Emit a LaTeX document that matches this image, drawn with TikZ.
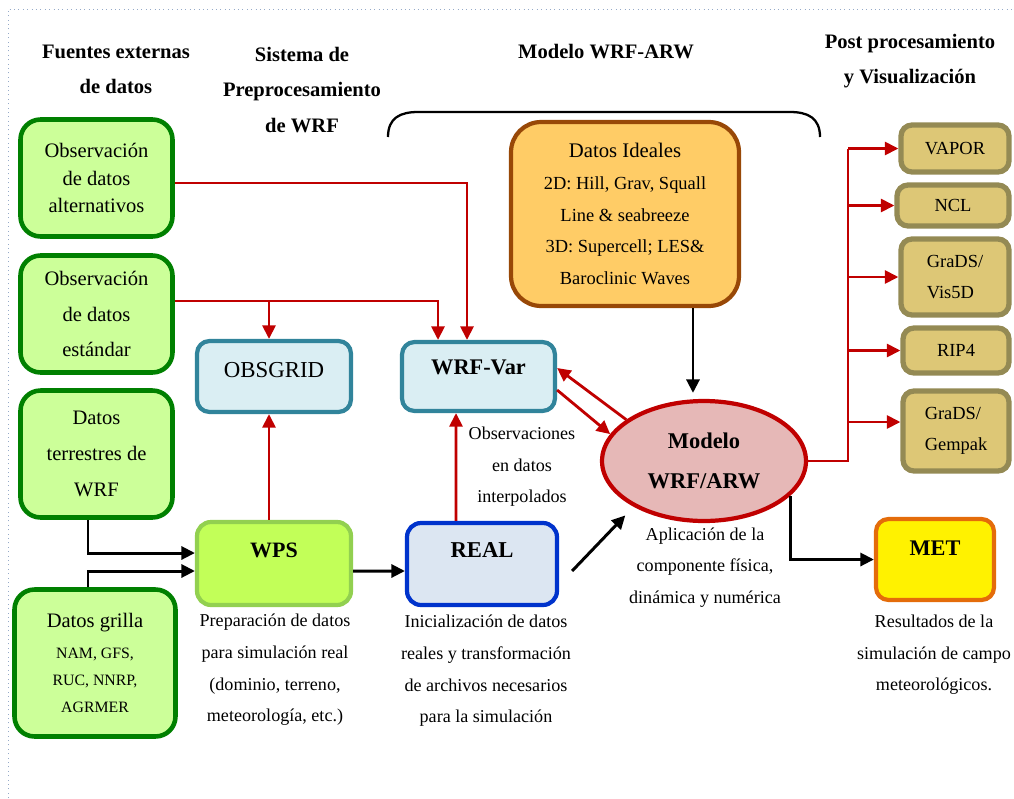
\documentclass[tikz,border=0pt]{standalone}
\usepackage{fontspec}
\setmainfont{Liberation Serif}
\usepackage{xcolor}
\usetikzlibrary{shapes.geometric,arrows.meta}
\definecolor{srcGreen}{RGB}{0,128,0}
\definecolor{srcFill}{RGB}{204,255,153}
\definecolor{preTeal}{RGB}{49,132,155}
\definecolor{preFill}{RGB}{218,238,243}
\definecolor{wpsGreen}{RGB}{146,208,80}
\definecolor{wpsFill}{RGB}{194,255,88}
\definecolor{realBlue}{RGB}{0,51,204}
\definecolor{realFill}{RGB}{220,230,242}
\definecolor{idealBrown}{RGB}{152,72,7}
\definecolor{idealFill}{RGB}{255,204,102}
\definecolor{wrfRed}{RGB}{192,0,0}
\definecolor{wrfFill}{RGB}{230,184,183}
\definecolor{metOrange}{RGB}{228,108,10}
\definecolor{postOlive}{RGB}{148,138,84}
\definecolor{postFill}{RGB}{221,199,118}
\definecolor{frameBlue}{RGB}{150,170,200}

\begin{document}
\begin{tikzpicture}[x=0.02cm, y=-0.02cm,
    >={Triangle[length=0.27cm,width=0.26cm]},
    txt/.style={font=\fontsize{10.3}{18}\selectfont, align=center, inner sep=0pt},
    head/.style={font=\fontsize{11.7}{20}\selectfont\bfseries, align=center, inner sep=0pt},
    srcbox/.style={draw=srcGreen, fill=srcFill, line width=2.6pt, rounded corners=0.4cm, align=center, minimum width=3.04cm},
    prebox/.style={draw=preTeal, fill=preFill, line width=2.4pt, rounded corners=0.25cm},
    postbox/.style={draw=postOlive, fill=postFill, line width=3pt, rounded corners=0.22cm, font=\fontsize{10.5}{18}\selectfont},
    redline/.style={draw=wrfRed, line width=1.6pt},
    blackline/.style={draw=black, line width=1.7pt}]
            \useasboundingbox (0,0) rectangle (1014,798);
            \draw[frameBlue, dotted, line width=0.5pt] (8,798) -- (8,9) -- (1014,9);

            % Titles
            \node[head] (hsrc) at (116,69.5) {Fuentes externas\\de datos};
            \node[head] (hpre) at (302,90) {Sistema de\\Preprocesamiento\\de WRF};
            \node[head] (hwrf) at (606,52) {Modelo WRF-ARW};
            \node[head] (hpost) at (910,61.5) {Post procesamiento\\y Visualización};
            \draw[line width=1.3pt] (388,137) .. controls (388,118) and (400,112) .. (418,112) -- (790,112) .. controls (808,112) and (820,118) .. (820,137);

            % Fuentes externas
            \node[srcbox, minimum height=2.34cm, font=\fontsize{11.7}{15.6}\selectfont] (obsalt) at (96.5,178) {Observación\\de datos\\alternativos};
            \node[srcbox, minimum height=2.34cm, font=\fontsize{11.7}{20}\selectfont] (obsstd) at (96.5,314) {Observación\\de datos\\estándar};
            \node[srcbox, minimum height=2.54cm, font=\fontsize{11.7}{20.5}\selectfont] (terr) at (96.5,454) {Datos\\terrestres de\\WRF};
            \node[srcbox, minimum width=3.22cm, minimum height=2.94cm, font=\fontsize{9}{15.4}\selectfont] (grid) at (95,663) {{\fontsize{11.7}{15}\selectfont Datos grilla}\\[2pt]NAM, GFS,\\RUC, NNRP,\\AGRMER};

            % Preprocesamiento
            \node[prebox, minimum width=3.08cm, minimum height=1.42cm, font=\fontsize{13}{15}\selectfont, text depth=0.28cm] (obsgrid) at (274,376.5) {OBSGRID};
            \node[prebox, minimum width=3.06cm, minimum height=1.38cm, font=\fontsize{12.7}{15}\selectfont\bfseries, text depth=0.38cm] (wrfvar) at (478.5,376.5) {WRF-Var};
            \node[draw=wpsGreen, fill=wpsFill, line width=2.4pt, rounded corners=0.28cm, minimum width=3.08cm, minimum height=1.66cm, font=\fontsize{12.5}{15}\selectfont\bfseries, text depth=0.54cm] (wps) at (274,563.5) {WPS};
            \node[draw=realBlue, fill=realFill, line width=2.4pt, rounded corners=0.28cm, minimum width=3.0cm, minimum height=1.64cm, font=\fontsize{12.9}{15}\selectfont\bfseries, text depth=0.56cm] (real) at (482,564) {REAL};
            \node[txt] (wpstxt) at (275,670) {Preparación de datos\\para simulación real\\(dominio, terreno,\\meteorología, etc.)};
            \node[txt] (realtxt) at (486,671) {Inicialización de datos\\reales y transformación\\de archivos necesarios\\para la simulación};
            \node[txt] (interp) at (522,467) {Observaciones\\en datos\\interpolados};

            % Modelo WRF-ARW
            \node[draw=idealBrown, fill=idealFill, line width=2.4pt, rounded corners=0.6cm, minimum width=4.56cm, minimum height=3.68cm, align=center, font=\fontsize{10.5}{18}\selectfont] (ideal) at (625,214) {{\fontsize{11.8}{18}\selectfont Datos Ideales}\\2D: Hill, Grav, Squall\\Line \& seabreeze\\3D: Supercell; LES\&\\Baroclinic Waves};
            \node[ellipse, draw=wrfRed, fill=wrfFill, line width=2.4pt, minimum width=4.08cm, minimum height=2.4cm, inner sep=0pt, align=center, font=\fontsize{12.8}{22.8}\selectfont\bfseries] (model) at (704,461) {Modelo\\WRF/ARW};
            \node[txt] (modeltxt) at (705,567.5) {Aplicación de la\\componente física,\\dinámica y numérica};
            \node[draw=metOrange, fill=yellow, line width=2.4pt, rounded corners=0.25cm, minimum width=2.36cm, minimum height=1.62cm, font=\fontsize{12.7}{15}\selectfont\bfseries, text depth=0.46cm] (met) at (935,559.5) {MET};
            \node[txt] (mettxt) at (934,655) {Resultados de la\\simulación de campo\\meteorológicos.};

            % Post procesamiento
            \node[postbox, minimum width=2.16cm, minimum height=0.94cm] (vapor) at (955,148.5) {VAPOR};
            \node[postbox, minimum width=2.24cm, minimum height=0.82cm] (ncl) at (953,205.5) {NCL};
            \node[postbox, minimum width=2.16cm, minimum height=1.52cm, align=left] (vis) at (955,277) {GraDS/\\Vis5D};
            \node[postbox, minimum width=2.12cm, minimum height=0.9cm] (rip) at (956,350.5) {RIP4};
            \node[postbox, minimum width=2.12cm, minimum height=1.6cm, align=left] (gempak) at (956,431) {GraDS/\\Gempak};

            % red connectors
            \coordinate (gridtop) at ([xshift=-0.1cm]obsgrid.north);
            \coordinate (stdline) at ([yshift=0.26cm]obsstd.east);
            \draw[redline,->] ([yshift=-0.1cm]obsalt.east) -| ([xshift=-0.23cm]wrfvar.north);
            \draw[redline,->] (stdline) -| ([xshift=-0.81cm]wrfvar.north);
            \draw[redline,->] (stdline -| gridtop) -- (gridtop);
            \draw[redline,->] ([xshift=-0.1cm]wps.north) -- ([xshift=-0.1cm]obsgrid.south);
            \draw[redline,->] ([xshift=-0.52cm]real.north) -- ([xshift=-0.45cm]wrfvar.south);
            \draw[redline,->] (model.152) -- ([yshift=0.17cm]wrfvar.east);
            \draw[redline,->] ([yshift=-0.27cm]wrfvar.east) -- (model.164);
            \coordinate (bus) at (848,148.5);
            \coordinate (gempk) at ([yshift=0.18cm]gempak.west);
            \draw[redline] (model.east) -| (bus);
            \foreach \b in {vapor,ncl,vis,rip}
                \draw[redline,->] (bus |- \b.west) -- (\b.west);
            \draw[redline,->] (bus |- gempk) -- (gempk);

            % black connectors
            \draw[blackline,->] ([xshift=-0.17cm]terr.south) |- ([yshift=0.21cm]wps.west);
            \draw[blackline,->] ([xshift=-0.14cm]grid.north) |- ([yshift=-0.15cm]wps.west);
            \draw[blackline,->] ([yshift=-0.15cm]wps.east) -- ([yshift=-0.14cm]real.west);
            \draw[blackline,->,shorten >=0.24cm] ([xshift=0.26cm,yshift=-0.14cm]real.east) -- (model.213);
            \coordinate (idealout) at ([xshift=1.36cm]ideal.south);
            \draw[blackline,->,shorten >=0.12cm] (idealout) -- (idealout |- model.north);
            \draw[blackline,->] (model.338) |- (met.west);
        \end{tikzpicture}
\end{document}
